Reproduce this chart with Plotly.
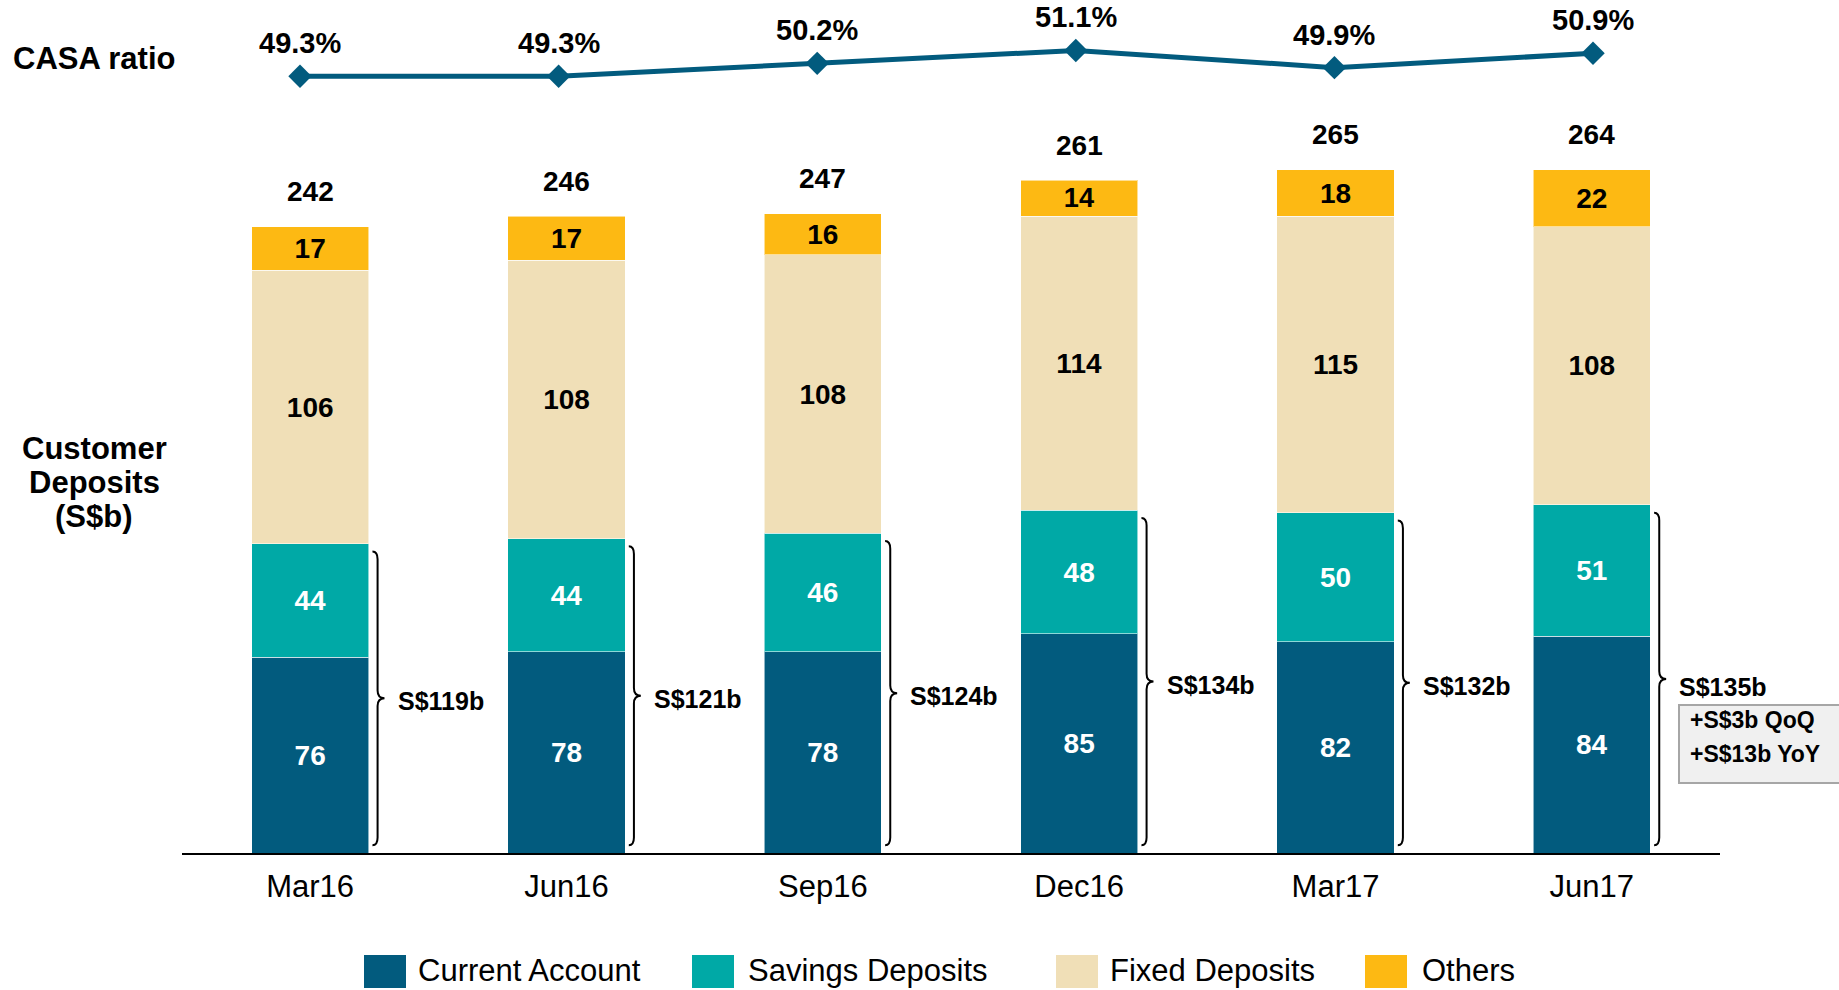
import plotly.graph_objects as go

# ---------------- data ----------------
categories = ["Mar16", "Jun16", "Sep16", "Dec16", "Mar17", "Jun17"]
current_account = [76, 78, 78, 85, 82, 84]
savings_deposits = [44, 44, 46, 48, 50, 51]
fixed_deposits = [106, 108, 108, 114, 115, 108]
others = [17, 17, 16, 14, 18, 22]
totals = [242, 246, 247, 261, 265, 264]
casa_totals = ["S$119b", "S$121b", "S$124b", "S$134b", "S$132b", "S$135b"]
casa_ratio = [49.3, 49.3, 50.2, 51.1, 49.9, 50.9]
series_names = ["Current Account", "Savings Deposits", "Fixed Deposits", "Others"]
box_lines = ["+S$3b QoQ", "+S$13b YoY"]
left_title_lines = ["Customer", "Deposits", "(S$b)"]

# ---------------- style ----------------
colors = ["#025B7E", "#00A9A6", "#F0DFB7", "#FDB913"]
text_colors = ["white", "white", "black", "black"]
FONT = "Liberation Sans, Arial, Helvetica, sans-serif"
W, H = 1839, 990
ML, MR, MT, MB = 182, 119, 0, 137
PW, PH = W - ML - MR, H - MT - MB


def px_x(px):
    return (px - ML) / PW


def px_y(py):
    return (H - MB - py) / PH


series = [current_account, savings_deposits, fixed_deposits, others]
xs = list(range(len(categories)))

fig = go.Figure()
for name, vals, col, tc in zip(series_names, series, colors, text_colors):
    fig.add_trace(go.Bar(
        x=xs, y=vals, name=name, width=0.457,
        marker=dict(color=col, line=dict(color="rgba(255,255,255,0.55)", width=1)),
        text=[str(v) for v in vals], textposition="inside",
        insidetextanchor="middle", textangle=0,
        textfont=dict(family=FONT, size=28, color=tc, weight="bold"),
        showlegend=False, hoverinfo="skip",
    ))

fig.add_trace(go.Scatter(
    x=xs, y=casa_ratio, xaxis="x2", yaxis="y2", mode="lines+markers",
    line=dict(color="#025B7E", width=5),
    marker=dict(symbol="diamond", size=18, color="#025B7E"),
    showlegend=False, hoverinfo="skip",
))

annotations = []
shapes = []

# totals above bars
for i, t in enumerate(totals):
    stack = sum(s[i] for s in series)
    annotations.append(dict(x=i, y=stack, xref="x", yref="y", text=str(t),
                            showarrow=False, yshift=35, yanchor="middle",
                            font=dict(family=FONT, size=28, color="black", weight="bold")))

# CASA ratio labels
for i, v in enumerate(casa_ratio):
    annotations.append(dict(x=i, y=v, xref="x2", yref="y2", text=f"{v:.1f}%",
                            showarrow=False, yshift=33, yanchor="middle",
                            font=dict(family=FONT, size=29, color="black", weight="bold")))

# braces around CASA (current + savings)
for i in xs:
    y0 = 3
    y1 = current_account[i] + savings_deposits[i] - 3
    ym = (y0 + y1) / 2
    xa, xb, xt = i + 0.243, i + 0.263, i + 0.29
    d = 3
    path = (f"M{xa},{y1} Q{xb},{y1} {xb},{y1-d} L{xb},{ym+d} "
            f"Q{xb},{ym} {xt},{ym} Q{xb},{ym} {xb},{ym-d} "
            f"L{xb},{y0+d} Q{xb},{y0} {xa},{y0}")
    shapes.append(dict(type="path", path=path, xref="x", yref="y",
                       line=dict(color="black", width=2)))
    annotations.append(dict(x=i + 0.333, y=ym, xref="x", yref="y", text=casa_totals[i],
                            showarrow=False, xanchor="left", yanchor="middle",
                            yshift=(-8 if i == len(xs) - 1 else -3),
                            font=dict(family=FONT, size=25, color="black", weight="bold")))

# QoQ / YoY box
shapes.append(dict(type="rect", xref="paper", yref="paper",
                   x0=px_x(1679), x1=px_x(1850), y0=px_y(783), y1=px_y(705),
                   fillcolor="#F0F0F0", line=dict(color="#A6A6A6", width=2)))
for k, (txt, py) in enumerate(zip(box_lines, [720, 754])):
    annotations.append(dict(x=px_x(1688), y=px_y(py), xref="paper", yref="paper",
                            text=txt, showarrow=False, xanchor="left", yanchor="middle",
                            font=dict(family=FONT, size=23, color="black", weight="bold")))

# left side labels
annotations.append(dict(x=px_x(11), y=px_y(59), xref="paper", yref="paper",
                        text="CASA ratio", showarrow=False, xanchor="left", yanchor="middle",
                        font=dict(family=FONT, size=31, color="black", weight="bold")))
for txt, py in zip(left_title_lines, [448, 482, 516]):
    annotations.append(dict(x=px_x(94), y=px_y(py), xref="paper", yref="paper",
                            text=txt, showarrow=False,
                            xanchor="center", yanchor="middle", align="center",
                            font=dict(family=FONT, size=31, color="black", weight="bold")))

# manual legend
sw_x = [364, 692, 1056, 1365]
tx_x = [416, 746, 1108, 1420]
for name, col, sx, tx in zip(series_names, colors, sw_x, tx_x):
    shapes.append(dict(type="rect", xref="paper", yref="paper",
                       x0=px_x(sx), x1=px_x(sx + 42), y0=px_y(988), y1=px_y(955),
                       fillcolor=col, line=dict(width=0)))
    annotations.append(dict(x=px_x(tx), y=px_y(971), xref="paper", yref="paper",
                            text=name, showarrow=False, xanchor="left", yanchor="middle",
                            font=dict(family=FONT, size=31, color="black")))

fig.update_layout(
    width=W, height=H,
    margin=dict(l=ML, r=MR, t=MT, b=MB, pad=0),
    paper_bgcolor="white", plot_bgcolor="white",
    barmode="stack", showlegend=False,
    font=dict(family=FONT, color="black"),
    xaxis=dict(range=[-0.5, 5.5], tickmode="array", tickvals=xs, ticktext=categories,
               showline=True, linecolor="black", linewidth=2, ticks="",
               ticklabelstandoff=5,
               showgrid=False, zeroline=False, fixedrange=True,
               tickfont=dict(family=FONT, size=31, color="black")),
    yaxis=dict(range=[0, 330.9], visible=False, showgrid=False, zeroline=False),
    xaxis2=dict(range=[-0.4563, 5.491], overlaying="x", visible=False),
    yaxis2=dict(range=[-4.91, 54.62], overlaying="y", visible=False),
    annotations=annotations,
    shapes=shapes,
)

fig.write_html("out.html", config={"displayModeBar": False},
               post_script="document.body.style.margin='0';")
